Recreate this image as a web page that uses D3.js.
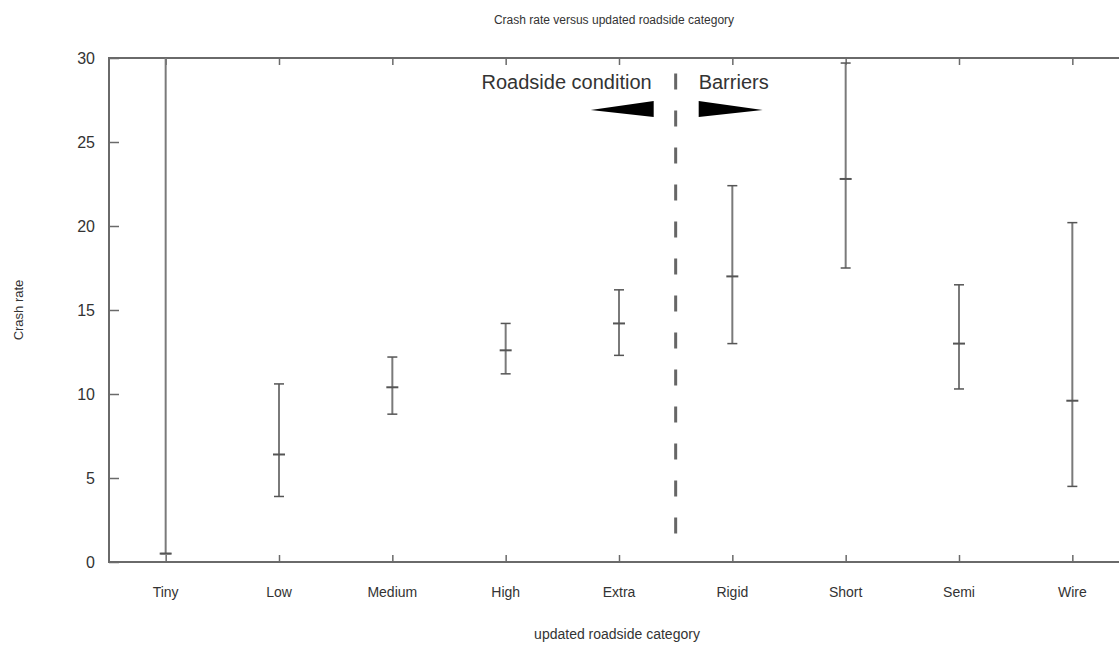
<!DOCTYPE html>
<html lang="en">
<head>
    <meta charset="UTF-8">
    <title>Crash rate versus updated roadside category</title>
    <script src="https://d3js.org/d3.v7.min.js"></script>
    <style>
        body{
            margin: 0;
            background: white;
        }
        text{
            font-family: "Liberation Sans", Arial, sans-serif;
            fill: #333;
        }
    </style>
</head>
<body>

<script>
    // values
    const categories = ["Tiny", "Low", "Medium", "High", "Extra", "Rigid", "Short", "Semi", "Wire"]
    const means  = [0.5, 6.4, 10.4, 12.6, 14.2, 17.0, 22.8, 13.0, 9.6]
    const lowers = [0.5, 3.9, 8.8, 11.2, 12.3, 13.0, 17.5, 10.3, 4.5]
    const uppers = [34, 10.6, 12.2, 14.2, 16.2, 22.4, 29.7, 16.5, 20.2]
    const yTicks = [0, 5, 10, 15, 20, 25, 30]
    const groupLabels = ["Roadside condition", "Barriers"]

    const width = 1119, height = 646
    const margin = {top: 58, right: -10, bottom: 84, left: 109}

    const svg = d3.select("body").append("svg")
        .attr("width", width)
        .attr("height", height)

    const x = d3.scaleLinear().domain([0.5, categories.length + 0.5])
        .range([margin.left, width - margin.right])
    const y = d3.scaleLinear().domain([0, 30])
        .range([height - margin.bottom, margin.top])

    const rows = categories.map(function(c, i) {
        return {cat: c, pos: i + 1, mean: means[i], lo: lowers[i], hi: uppers[i]}
    })

    svg.append("clipPath").attr("id", "plotclip")
        .append("rect")
        .attr("x", x.range()[0]).attr("y", y(30))
        .attr("width", x.range()[1] - x.range()[0])
        .attr("height", y(0) - y(30))

    const axisColor = "#6a6a6a"

    // frame
    svg.append("rect")
        .attr("x", x.range()[0]).attr("y", y(30))
        .attr("width", x.range()[1] - x.range()[0])
        .attr("height", y(0) - y(30))
        .attr("fill", "none")
        .attr("stroke", axisColor)
        .attr("stroke-width", 2)

    // y axis (ticks inward, mirrored on right)
    const yLeft = svg.append("g")
        .attr("transform", "translate(" + x.range()[0] + ",0)")
        .call(d3.axisRight(y).tickValues(yTicks).tickSize(10).tickFormat(""))
    yLeft.select(".domain").remove()
    yLeft.selectAll("line").attr("stroke", axisColor).attr("stroke-width", 1.5)

    const yRight = svg.append("g")
        .attr("transform", "translate(" + x.range()[1] + ",0)")
        .call(d3.axisLeft(y).tickValues(yTicks).tickSize(10).tickFormat(""))
    yRight.select(".domain").remove()
    yRight.selectAll("line").attr("stroke", axisColor).attr("stroke-width", 1.5)

    svg.selectAll(".ylab")
        .data(yTicks)
        .enter()
        .append("text")
        .attr("class", "ylab")
        .attr("x", x.range()[0] - 14)
        .attr("y", d => y(d))
        .attr("dy", "0.35em")
        .attr("text-anchor", "end")
        .attr("font-size", 16)
        .text(d => d)

    // x ticks top and bottom
    const xTicks = rows.map(d => d.pos)
    const xBottom = svg.append("g")
        .attr("transform", "translate(0," + y(0) + ")")
        .call(d3.axisTop(x).tickValues(xTicks).tickSize(7).tickFormat(""))
    xBottom.select(".domain").remove()
    xBottom.selectAll("line").attr("stroke", axisColor).attr("stroke-width", 1.5)

    const xTop = svg.append("g")
        .attr("transform", "translate(0," + y(30) + ")")
        .call(d3.axisBottom(x).tickValues(xTicks).tickSize(7).tickFormat(""))
    xTop.select(".domain").remove()
    xTop.selectAll("line").attr("stroke", axisColor).attr("stroke-width", 1.5)

    svg.selectAll(".xlab")
        .data(rows)
        .enter()
        .append("text")
        .attr("class", "xlab")
        .attr("x", d => x(d.pos))
        .attr("y", y(0) + 35)
        .attr("text-anchor", "middle")
        .attr("font-size", 14)
        .text(d => d.cat)

    // error bars
    const barColor = "#7a7a7a"
    const bars = svg.append("g").attr("clip-path", "url(#plotclip)")

    bars.selectAll(".whisker")
        .data(rows)
        .enter()
        .append("line")
        .attr("x1", d => x(d.pos)).attr("x2", d => x(d.pos))
        .attr("y1", d => y(d.lo)).attr("y2", d => y(d.hi))
        .attr("stroke", barColor)
        .attr("stroke-width", 2)

    bars.selectAll(".capLo")
        .data(rows)
        .enter()
        .append("line")
        .attr("x1", d => x(d.pos) - 5).attr("x2", d => x(d.pos) + 5)
        .attr("y1", d => y(d.lo)).attr("y2", d => y(d.lo))
        .attr("stroke", "#555")
        .attr("stroke-width", 1.5)

    bars.selectAll(".capHi")
        .data(rows.filter(d => d.hi <= 30))
        .enter()
        .append("line")
        .attr("x1", d => x(d.pos) - 5).attr("x2", d => x(d.pos) + 5)
        .attr("y1", d => y(d.hi)).attr("y2", d => y(d.hi))
        .attr("stroke", "#555")
        .attr("stroke-width", 1.5)

    bars.selectAll(".meanMark")
        .data(rows)
        .enter()
        .append("line")
        .attr("x1", d => x(d.pos) - 6).attr("x2", d => x(d.pos) + 6)
        .attr("y1", d => y(d.mean)).attr("y2", d => y(d.mean))
        .attr("stroke", "#555")
        .attr("stroke-width", 2)

    // divider between roadside condition and barriers
    const divX = x(5.5)
    svg.append("line")
        .attr("x1", divX).attr("x2", divX)
        .attr("y1", y(1.7)).attr("y2", y(29.7))
        .attr("stroke", "#666")
        .attr("stroke-width", 3)
        .attr("stroke-dasharray", "16,21")

    const arrowY = y(26.9)
    svg.append("path")
        .attr("d", "M" + (divX - 22) + "," + (arrowY - 9) + " L" + (divX - 22) + "," + (arrowY + 7) +
            " L" + (divX - 85) + "," + arrowY + " Z")
        .attr("fill", "black")
    svg.append("path")
        .attr("d", "M" + (divX + 23) + "," + (arrowY - 9) + " L" + (divX + 23) + "," + (arrowY + 7) +
            " L" + (divX + 87) + "," + arrowY + " Z")
        .attr("fill", "black")

    svg.append("text")
        .attr("x", divX - 24).attr("y", y(28.15))
        .attr("text-anchor", "end")
        .attr("font-size", 20)
        .attr("fill", "#222")
        .text(groupLabels[0])
    svg.append("text")
        .attr("x", divX + 23).attr("y", y(28.15))
        .attr("text-anchor", "start")
        .attr("font-size", 20)
        .attr("fill", "#222")
        .text(groupLabels[1])

    // titles
    svg.append("text")
        .attr("x", 614).attr("y", 24)
        .attr("text-anchor", "middle")
        .attr("font-size", 12)
        .text("Crash rate versus updated roadside category")

    svg.append("text")
        .attr("x", 617).attr("y", 639)
        .attr("text-anchor", "middle")
        .attr("font-size", 14)
        .text("updated roadside category")

    svg.append("text")
        .attr("transform", "translate(23," + y(15) + ") rotate(-90)")
        .attr("text-anchor", "middle")
        .attr("font-size", 13)
        .text("Crash rate")
</script>
</body>
</html>
